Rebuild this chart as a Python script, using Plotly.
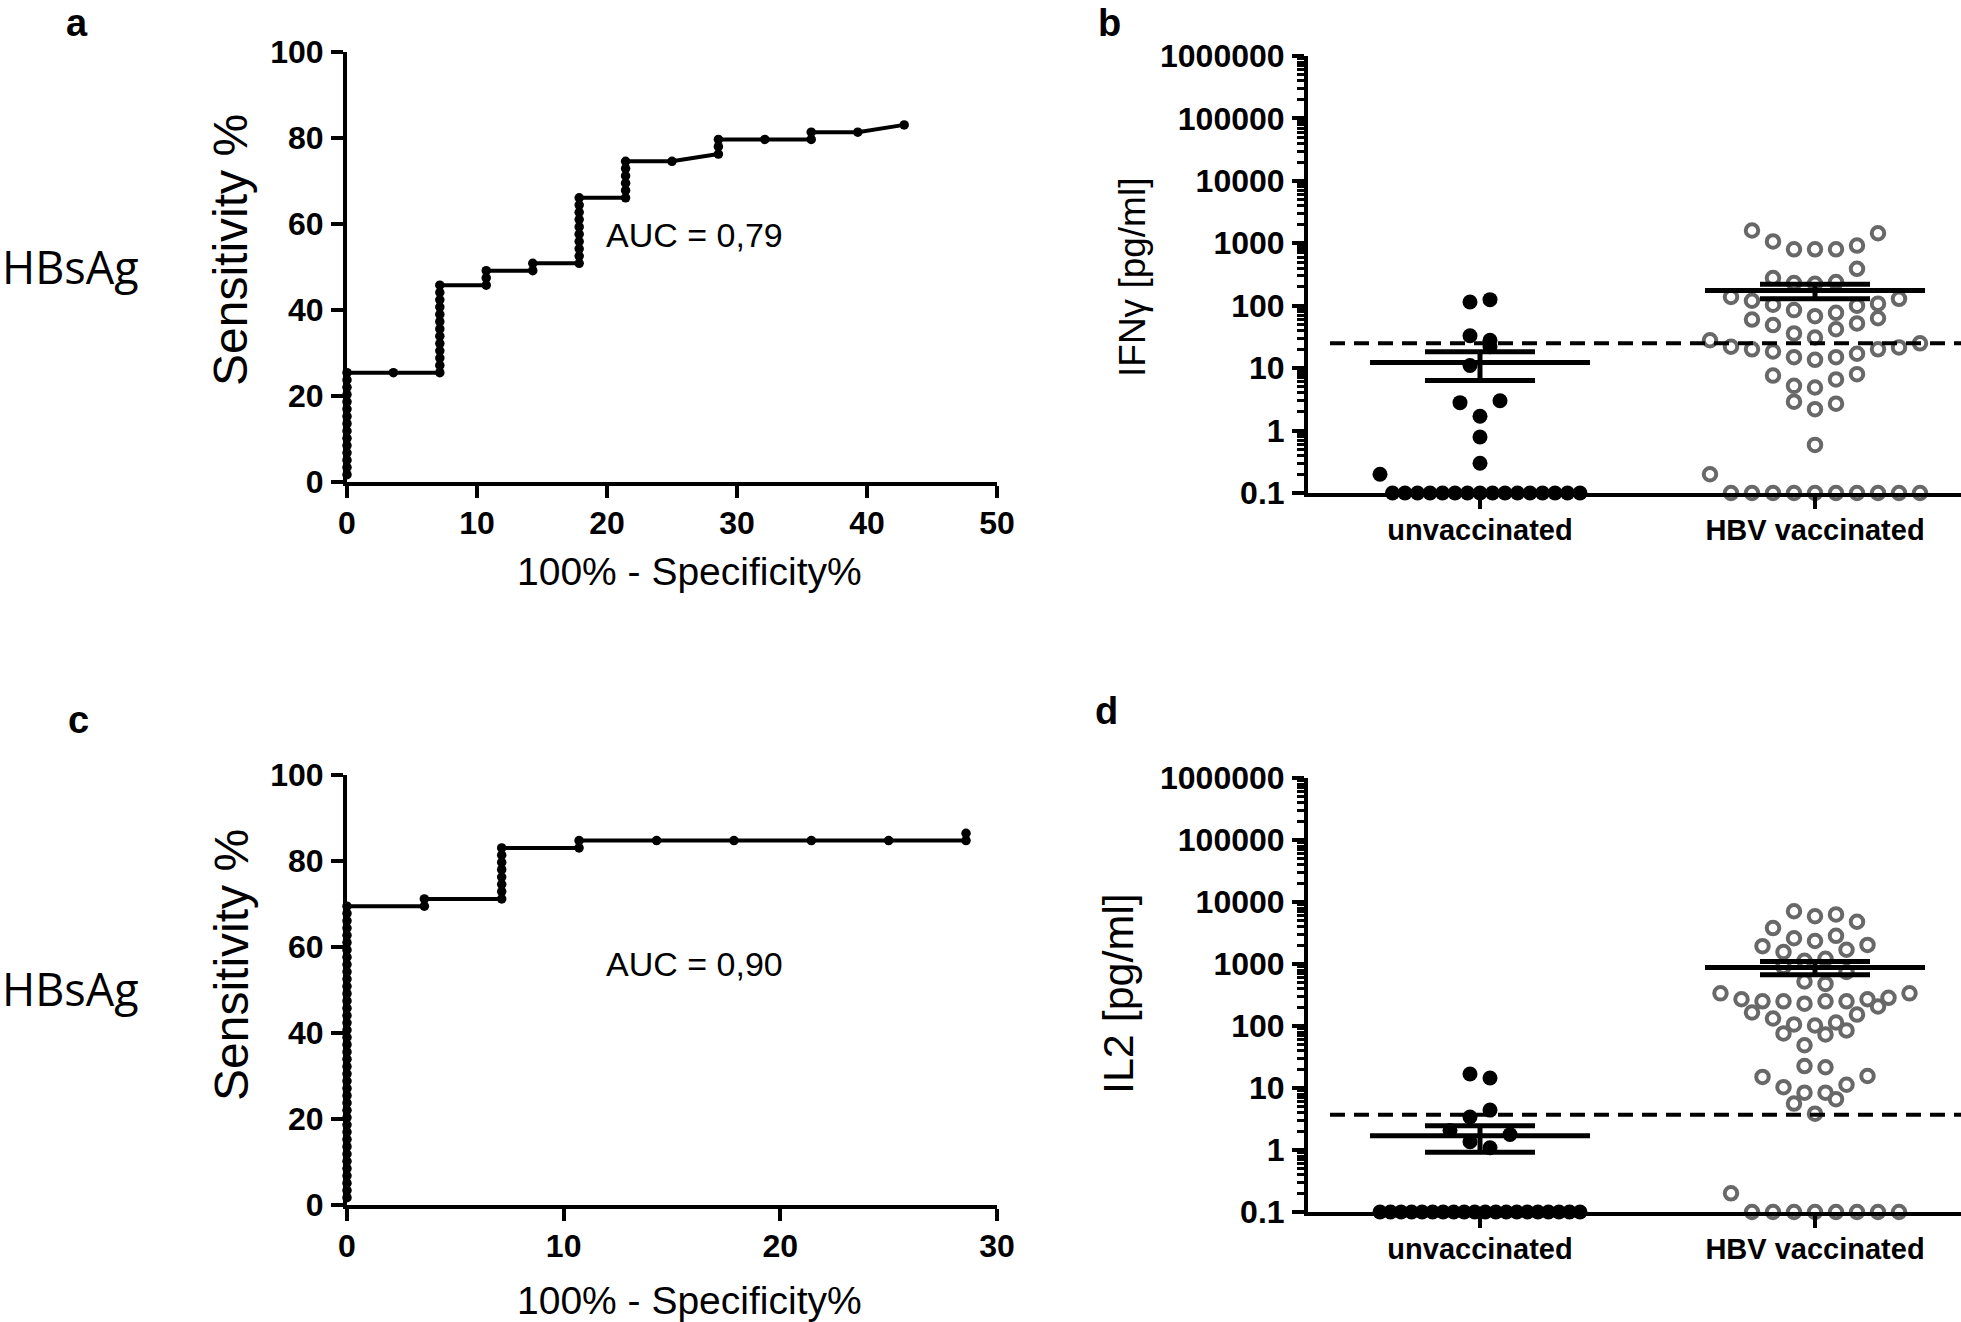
import numpy as np
import plotly.graph_objects as go

# ---------------- data ----------------
cats = ["unvaccinated", "HBV vaccinated"]

# ROC curve, panel a (100% - specificity %, sensitivity %)
roc_a_fpr = [0, 0, 0, 0, 0, 0, 0, 0, 0, 0, 0, 0, 0, 0, 0,
             3.57,
             7.14, 7.14, 7.14, 7.14, 7.14, 7.14, 7.14, 7.14, 7.14, 7.14, 7.14, 7.14, 7.14,
             10.71, 10.71, 10.71,
             14.29, 14.29,
             17.86, 17.86, 17.86, 17.86, 17.86, 17.86, 17.86, 17.86, 17.86, 17.86,
             21.43, 21.43, 21.43, 21.43, 21.43, 21.43,
             25.00,
             28.57, 28.57, 28.57,
             32.14,
             35.71, 35.71,
             39.29,
             42.86]
roc_a_sens = [1.69, 3.39, 5.08, 6.78, 8.47, 10.17, 11.86, 13.56, 15.25, 16.95, 18.64, 20.34, 22.03, 23.73, 25.42,
              25.42,
              25.42, 27.12, 28.81, 30.51, 32.20, 33.90, 35.59, 37.29, 38.98, 40.68, 42.37, 44.07, 45.76,
              45.76, 47.46, 49.15,
              49.15, 50.85,
              50.85, 52.54, 54.24, 55.93, 57.63, 59.32, 61.02, 62.71, 64.41, 66.10,
              66.10, 67.80, 69.49, 71.19, 72.88, 74.58,
              74.58,
              76.27, 77.97, 79.66,
              79.66,
              79.66, 81.36,
              81.36,
              83.05]

# ROC curve, panel c
roc_c_fpr = [0, 0, 0, 0, 0, 0, 0, 0, 0, 0, 0, 0, 0, 0, 0, 0, 0, 0, 0, 0, 0,
             0, 0, 0, 0, 0, 0, 0, 0, 0, 0, 0, 0, 0, 0, 0, 0, 0, 0, 0, 0,
             3.57, 3.57,
             7.14, 7.14, 7.14, 7.14, 7.14, 7.14, 7.14, 7.14,
             10.71, 10.71,
             14.29, 17.86, 21.43, 25.00,
             28.57, 28.57]
roc_c_sens = [1.69, 3.39, 5.08, 6.78, 8.47, 10.17, 11.86, 13.56, 15.25, 16.95, 18.64, 20.34, 22.03, 23.73,
              25.42, 27.12, 28.81, 30.51, 32.20, 33.90, 35.59, 37.29, 38.98, 40.68, 42.37, 44.07, 45.76,
              47.46, 49.15, 50.85, 52.54, 54.24, 55.93, 57.63, 59.32, 61.02, 62.71, 64.41, 66.10, 67.80, 69.49,
              69.49, 71.19,
              71.19, 72.88, 74.58, 76.27, 77.97, 79.66, 81.36, 83.05,
              83.05, 84.75,
              84.75, 84.75, 84.75, 84.75,
              84.75, 86.44]

auc_a = "0,79"
auc_c = "0,90"

# IFN-gamma (pg/ml), panel b
ifn_unvacc = [0.1, 0.1, 0.1, 0.1, 0.1, 0.1, 0.1, 0.1, 0.1, 0.1, 0.1, 0.1, 0.1, 0.1, 0.1, 0.1,
              0.2, 0.3, 0.79, 1.7, 2.8, 3.0, 11, 22, 28, 33, 115, 125]
ifn_vacc = [0.1, 0.1, 0.1, 0.1, 0.1, 0.1, 0.1, 0.1, 0.1, 0.1, 0.2, 0.59,
            2.2, 2.7, 2.9, 4.9, 5.2, 6.6, 7.6, 8.0,
            13.6, 15, 15, 17, 18.5, 20, 20, 21.5, 22, 25, 28,
            31, 36, 42, 49, 52, 60, 63,
            68, 77, 85, 100, 104, 108, 120, 129, 138,
            225, 231, 240, 277, 390,
            800, 800, 800, 920, 1070, 1450, 1600]
ifn_cutoff = 25

# IL2 (pg/ml), panel d
il2_unvacc = [0.1, 0.1, 0.1, 0.1, 0.1, 0.1, 0.1, 0.1, 0.1, 0.1, 0.1, 0.1, 0.1, 0.1, 0.1, 0.1, 0.1, 0.1, 0.1, 0.1,
              1.09, 1.36, 1.78, 2.07, 3.4, 4.4, 14.5, 16.8]
il2_vacc = [0.1, 0.1, 0.1, 0.1, 0.1, 0.1, 0.1, 0.1, 0.2,
            3.85, 5.6, 6.6,
            8.4, 8.4, 10.3, 11.3, 15.1, 15.6,
            21.6, 22.6,
            49, 73, 76, 85,
            102, 106, 114, 132, 153, 165, 206,
            229, 250, 250, 250, 250, 270, 270, 285, 336, 336,
            478, 522, 745, 900,
            1125, 1210, 1560, 1700, 1940, 2030,
            2350, 2600, 2850, 3800, 4800,
            5900, 6300, 7100]
il2_cutoff = 3.7

log_ticks = [0.1, 1, 10, 100, 1000, 10000, 100000, 1000000]
log_ticktext = ["0.1", "1", "10", "100", "1000", "10000", "100000", "1000000"]

# ---------------- geometry (page pixels) ----------------
W, H = 1961, 1322
FONT = "Liberation Sans, Arial, Helvetica, sans-serif"
LABEL_FONT = "Open Sans, Lato, Liberation Sans, sans-serif"

A_X0, A_X1 = 347, 997
A_YT, A_YB = 52, 482
C_YT, C_YB = 775, 1205
B_X0, B_X1 = 1308, 1961
B_YT, B_YB = 56, 493
D_YT, D_YB = 778, 1212
CAT0_PX, CAT1_PX = 1480, 1815
UNIT_PX = CAT1_PX - CAT0_PX
cat_range = [(B_X0 - CAT0_PX) / UNIT_PX, (B_X1 - CAT0_PX) / UNIT_PX]


def fx(p):
    return p / W


def fy(p):
    return 1 - p / H


def xd(p0, p1):
    return [fx(p0), fx(p1)]


def yd(top, bot):
    return [fy(bot), fy(top)]


def swarm_px(values, row_decades=0.315, slot=21.0, limit=105.0):
    """Prism-like column scatter: group into rows, spread symmetrically."""
    v = np.asarray(values, dtype=float)
    lg = np.log10(v)
    order = np.argsort(v, kind="stable")
    rows, cur, start = [], [], None
    for i in order:
        if cur and lg[i] - start > row_decades:
            rows.append(cur)
            cur = []
        if not cur:
            start = lg[i]
        cur.append(i)
    if cur:
        rows.append(cur)
    off = np.zeros(len(v))
    for r, row in enumerate(rows):
        sign = 1 if r % 2 == 0 else -1
        n = len(row)
        d0 = sign if n % 2 == 1 else -sign
        slots = []
        for k in range(n):
            if n % 2 == 1:
                if k == 0:
                    s = 0.0
                else:
                    m = (k + 1) // 2
                    s = m * (d0 if k % 2 == 1 else -d0)
            else:
                m = k // 2 + 0.5
                s = m * (d0 if k % 2 == 0 else -d0)
            slots.append(s)
        slots = np.array(slots) * slot
        mx = np.abs(slots).max()
        if mx > limit:
            slots *= limit / mx
        off[row] = slots
    return off


fig = go.Figure()

# ---------- ROC panels ----------
for fpr, sens, xa, ya in [(roc_a_fpr, roc_a_sens, "x", "y"), (roc_c_fpr, roc_c_sens, "x3", "y3")]:
    fig.add_trace(go.Scatter(x=fpr, y=sens, mode="lines+markers", xaxis=xa, yaxis=ya,
                             line=dict(color="black", width=4),
                             marker=dict(color="black", size=9.5),
                             cliponaxis=False, showlegend=False, hoverinfo="skip"))

# ---------- column scatter panels ----------
GREY = "#686868"


def add_column(vals, ci, xa, ya, filled):
    if filled:
        x = ci + swarm_px(vals, slot=20.0, limit=100.0) / UNIT_PX
        mk = dict(size=15, color="black", line=dict(width=0))
    else:
        x = ci + swarm_px(vals) / UNIT_PX
        mk = dict(size=12.5, symbol="circle-open", color=GREY, line=dict(width=4, color=GREY))
    fig.add_trace(go.Scatter(x=x, y=vals, mode="markers", marker=mk, xaxis=xa, yaxis=ya,
                             cliponaxis=False, showlegend=False, hoverinfo="skip"))


def add_mean_sem(vals, ci, xa, ya):
    v = np.asarray(vals, dtype=float)
    m = v.mean()
    s = v.std(ddof=1) / np.sqrt(len(v))
    hm = 110 / UNIT_PX
    hs = 55 / UNIT_PX
    xs = [ci - hm, ci + hm, None, ci - hs, ci + hs, None, ci - hs, ci + hs, None, ci, ci]
    ys = [m, m, None, m + s, m + s, None, m - s, m - s, None, m - s, m + s]
    fig.add_trace(go.Scatter(x=xs, y=ys, mode="lines", line=dict(color="black", width=5),
                             xaxis=xa, yaxis=ya, cliponaxis=False, showlegend=False, hoverinfo="skip"))


for unv, vac, cut, xa, ya in [(ifn_unvacc, ifn_vacc, ifn_cutoff, "x2", "y2"),
                              (il2_unvacc, il2_vacc, il2_cutoff, "x4", "y4")]:
    add_column(unv, 0, xa, ya, True)
    add_column(vac, 1, xa, ya, False)
    fig.add_trace(go.Scatter(x=[cat_range[0] + 22 / UNIT_PX, cat_range[1]], y=[cut, cut], mode="lines",
                             line=dict(color="black", width=4, dash="15px,9px"),
                             xaxis=xa, yaxis=ya, cliponaxis=False, showlegend=False, hoverinfo="skip"))
    add_mean_sem(unv, 0, xa, ya)
    add_mean_sem(vac, 1, xa, ya)

# ---------- axes ----------
tick_font = dict(family=FONT, size=32, color="black", weight="bold")
base = dict(showgrid=False, zeroline=False, showline=True, linecolor="black", linewidth=4,
            ticks="outside", ticklen=12, tickwidth=4, tickcolor="black",
            tickfont=tick_font, fixedrange=True, automargin=False)

roc_x = dict(base, ticklabelstandoff=-2)
roc_y = dict(base, range=[0, 100], tickvals=[0, 20, 40, 60, 80, 100], ticklabelstandoff=1)
log_y = dict(base, type="log", range=[-1, 6], tickmode="array", tickvals=log_ticks, ticktext=log_ticktext,
             ticklabelstandoff=1,
             minor=dict(ticks="outside", ticklen=7, tickwidth=3, tickcolor="black", dtick="D1", showgrid=False))
cat_x = dict(base, range=cat_range, tickmode="array", tickvals=[0, 1], ticktext=cats, ticklabelstandoff=-4,
             tickfont=dict(family=FONT, size=29, color="black", weight="bold"))

fig.update_layout(
    xaxis=dict(roc_x, domain=xd(A_X0, A_X1), range=[0, 50], tickvals=[0, 10, 20, 30, 40, 50], anchor="y"),
    yaxis=dict(roc_y, domain=yd(A_YT, A_YB), anchor="x"),
    xaxis2=dict(cat_x, domain=xd(B_X0, B_X1), anchor="y2"),
    yaxis2=dict(log_y, domain=yd(B_YT, B_YB), anchor="x2"),
    xaxis3=dict(roc_x, domain=xd(A_X0, A_X1), range=[0, 30], tickvals=[0, 10, 20, 30], anchor="y3"),
    yaxis3=dict(roc_y, domain=yd(C_YT, C_YB), anchor="x3"),
    xaxis4=dict(cat_x, domain=xd(B_X0, B_X1), anchor="y4"),
    yaxis4=dict(log_y, domain=yd(D_YT, D_YB), anchor="x4"),
)

# ---------- text ----------
ann = []


def text(s, xpx, ypx, size, family=FONT, bold=False, angle=0, xanchor="center"):
    ann.append(dict(text=s, x=fx(xpx), y=fy(ypx), xref="paper", yref="paper",
                    xanchor=xanchor, yanchor="middle", showarrow=False, textangle=angle,
                    font=dict(family=family, size=size, color="black", weight="bold" if bold else "normal")))


for lab, xp, yp in [("a", 77, 23), ("b", 1109, 23), ("c", 78, 720), ("d", 1106, 711)]:
    text(lab, xp, yp, 38, bold=True)

text("HBsAg", 0, 267, 45, family=LABEL_FONT, xanchor="left")
text("HBsAg", 0, 988, 45, family=LABEL_FONT, xanchor="left")
text("Sensitivity %", 231, 250, 48, angle=-90)
text("Sensitivity %", 231, 965, 48, angle=-90)
text("100% - Specificity%", 689, 571, 39)
text("100% - Specificity%", 689, 1300, 39)
text("AUC = " + auc_a, 604, 235, 34, xanchor="left")
text("AUC = " + auc_c, 604, 964, 34, xanchor="left")
text("IFNγ [pg/ml]", 1132, 278, 37, angle=-90)
text("IL2 [pg/ml]", 1118, 994, 43, angle=-90)

fig.update_layout(width=W, height=H,
                  margin=dict(l=0, r=0, t=0, b=0, pad=0, autoexpand=False),
                  paper_bgcolor="white", plot_bgcolor="white", annotations=ann, showlegend=False)

# remove the page's default body margin so the figure fills the window exactly
fig.write_html("out.html", config={"displayModeBar": False},
               post_script="document.body.style.margin='0';document.body.style.overflow='hidden';")
